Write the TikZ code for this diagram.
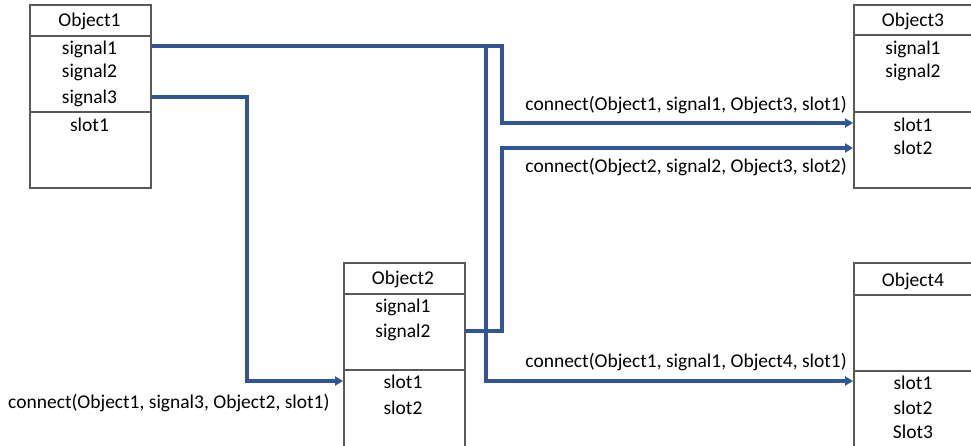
\documentclass[tikz,border=0pt]{standalone}
\usepackage{fontspec}
\setmainfont{Carlito}
\usetikzlibrary{arrows.meta}
\definecolor{wireblue}{HTML}{2F5597}
\definecolor{framegray}{HTML}{595959}
\begin{document}
\begin{tikzpicture}[x=1pt,y=-1pt,
  part/.style={draw=framegray,line width=2.3pt,minimum width=121pt,inner sep=0pt,anchor=north west},
  lbl/.style={font=\fontsize{19.5}{23}\selectfont,inner sep=0pt},
  wire/.style={draw=wireblue,line width=3.1pt},
  arr/.style={wire,-{Triangle[length=8pt,width=9pt]}}]
\clip (0,0) rectangle (971,446);

% Object1
\node[part,minimum height=31pt] (o1t) at (29,4) {};
\node[part,minimum height=76pt] (o1s) at (29,35) {};
\node[part,minimum height=76pt] (o1l) at (29,111) {};
\node[lbl] (o1n) at (89.5,21.5) {Object1};
\node[lbl] (o1a) at (89.5,49.5) {signal1};
\node[lbl] (o1b) at (89.5,72.5) {signal2};
\node[lbl] (o1c) at (89.5,98) {signal3};
\node[lbl] (o1x) at (89.5,124.5) {slot1};

% Object2
\node[part,minimum height=31pt] (o2t) at (343,262) {};
\node[part,minimum height=76pt] (o2s) at (343,293) {};
\node[part,minimum height=90pt] (o2l) at (343,369) {};
\node[lbl] (o2n) at (403,279) {Object2};
\node[lbl] (o2a) at (403,307) {signal1};
\node[lbl] (o2b) at (403,332) {signal2};
\node[lbl] (o2x) at (403,382) {slot1};
\node[lbl] (o2y) at (403,408) {slot2};

% Object3
\node[part,minimum height=30pt] (o3t) at (853,4) {};
\node[part,minimum height=77pt] (o3s) at (853,34) {};
\node[part,minimum height=76pt] (o3l) at (853,111) {};
\node[lbl] (o3n) at (913,21) {Object3};
\node[lbl] (o3a) at (913,49.5) {signal1};
\node[lbl] (o3b) at (913,72.5) {signal2};
\node[lbl] (o3x) at (913,124.5) {slot1};
\node[lbl] (o3y) at (913,148) {slot2};

% Object4
\node[part,minimum height=32pt] (o4t) at (853,262) {};
\node[part,minimum height=76pt] (o4s) at (853,294) {};
\node[part,minimum height=90pt] (o4l) at (853,370) {};
\node[lbl] (o4n) at (913,281) {Object4};
\node[lbl] (o4x) at (913,383) {slot1};
\node[lbl] (o4y) at (913,408) {slot2};
\node[lbl] (o4z) at (913,432) {Slot3};

% ports on the box edges
\coordinate (p1) at (o1s.east |- 0,46);
\coordinate (p3) at (o1s.east |- 0,97);
\coordinate (q2) at (o2s.east |- 0,331);
\coordinate (r1) at (o3l.west |- 0,123);
\coordinate (r2) at (o3l.west |- 0,148);
\coordinate (s1) at (o4l.west |- 0,381);
\coordinate (t1) at (o2l.west |- 0,381);

% connections
\draw[arr] (p1) -| (486,381) -- (s1);
\draw[arr] (p1) -| (502,123) -- (r1);
\draw[arr] (q2) -| (502,148) -- (r2);
\draw[arr] (p3) -| (247,381) -- (t1);

% connection labels
\node[lbl,anchor=east] (c1) at (847,105) {connect(Object1, signal1, Object3, slot1)};
\node[lbl,anchor=east] (c2) at (847,167) {connect(Object2, signal2, Object3, slot2)};
\node[lbl,anchor=east] (c3) at (847,362) {connect(Object1, signal1, Object4, slot1)};
\node[lbl,anchor=west] (c4) at (8,403) {connect(Object1, signal3, Object2, slot1)};
\end{tikzpicture}
\end{document}
